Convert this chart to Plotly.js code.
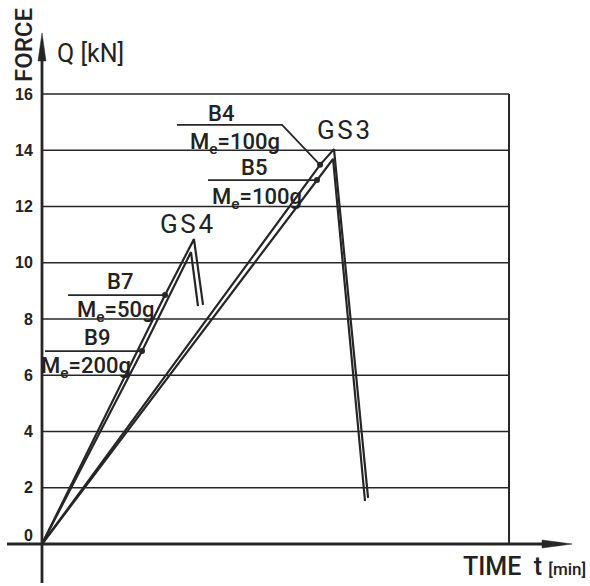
<!DOCTYPE html>
<html>
<head>
<meta charset="utf-8">
<script src="https://cdn.plot.ly/plotly-3.0.1.min.js"></script>
<style>html,body{margin:0;padding:0;background:#fff;}#chart{width:590px;height:586px;}</style>
</head>
<body>
<div id="chart"></div>
<script>
// ---- data (time in relative units, force in kN) ----
const forceTicks = [0, 2, 4, 6, 8, 10, 12, 14, 16];
const b4Time  = [0, 29.77, 31.26, 34.91];
const b4Force = [0, 13.48, 14.04, 1.64];
const b5Time  = [0, 29.44, 31.16, 34.58];
const b5Force = [0, 12.94, 13.69, 1.53];
const b7Time  = [0, 13.17, 16.27, 17.24];
const b7Force = [0, 8.85, 10.84, 8.50];
const b9Time  = [0, 10.71, 15.95, 16.70];
const b9Force = [0, 6.86, 10.38, 8.46];
const gaugeIndex = 1; // point where the strain gauge label attaches
const boxRight = 50;

const ink = '#262626';
const textInk = '#222222';
const lineStyle = {color: ink, width: 2.2};

const series = [[b4Time, b4Force], [b5Time, b5Force], [b7Time, b7Force], [b9Time, b9Force]];
const traces = series.map(s => ({
  x: s[0], y: s[1], mode: 'lines', line: lineStyle, hoverinfo: 'skip', cliponaxis: false
}));
traces.push({
  x: series.map(s => s[0][gaugeIndex]),
  y: series.map(s => s[1][gaugeIndex]),
  mode: 'markers', marker: {color: ink, size: 6}, hoverinfo: 'skip'
});
// leader lines from the labels to the gauge points
const leaders = [
  {x: [14.45, 25.70, b4Time[gaugeIndex]], y: [14.90, 14.90, b4Force[gaugeIndex]]},
  {x: [17.77, b5Time[gaugeIndex]], y: [b5Force[gaugeIndex], b5Force[gaugeIndex]]},
  {x: [2.78, b7Time[gaugeIndex]], y: [b7Force[gaugeIndex], b7Force[gaugeIndex]]},
  {x: [0.32, b9Time[gaugeIndex]], y: [b9Force[gaugeIndex], b9Force[gaugeIndex]]}
];
leaders.forEach(l => traces.push({x: l.x, y: l.y, mode: 'lines', line: {color: ink, width: 1.8}, hoverinfo: 'skip'}));

const shapes = [];
forceTicks.filter(v => v > 0).forEach(v => shapes.push({
  type: 'line', xref: 'x', yref: 'y', x0: 0, x1: boxRight, y0: v, y1: v,
  line: {color: ink, width: 1.7}
}));
shapes.push({type: 'line', xref: 'x', yref: 'y', x0: boxRight, x1: boxRight, y0: 0, y1: forceTicks[forceTicks.length - 1], line: {color: ink, width: 2}});
// axes
shapes.push({type: 'line', xref: 'x', yref: 'y', x0: 0, x1: 0, y0: -1.39, y1: 17.6, line: {color: ink, width: 2.8}});
shapes.push({type: 'line', xref: 'x', yref: 'y', x0: -3.75, x1: 55.5, y0: 0, y1: 0, line: {color: ink, width: 2.8}});
shapes.push({type: 'path', xref: 'x', yref: 'y', xsizemode: 'pixel', ysizemode: 'pixel', xanchor: 0, yanchor: 18.17,
  path: 'M-4,-28 L0,0 L4,-28 Z', fillcolor: ink, line: {color: ink, width: 0.5}});
shapes.push({type: 'path', xref: 'x', yref: 'y', xsizemode: 'pixel', ysizemode: 'pixel', xanchor: 56.75, yanchor: 0,
  path: 'M-30,-4 L0,0 L-30,4 Z', fillcolor: ink, line: {color: ink, width: 0.5}});

const lab = 'Roboto';
const annotations = [];
forceTicks.forEach(v => annotations.push({
  x: -0.75, y: v, xref: 'x', yref: 'y', xanchor: 'right', yanchor: 'middle', yshift: v === 0 ? 9 : 0,
  text: String(v), showarrow: false, font: {family: 'Liberation Sans', size: 16, color: textInk, weight: 'bold'}
}));
function txt(x, y, t, size, weight) {
  annotations.push({x: x, y: y, xref: 'x', yref: 'y', text: t, showarrow: false,
    xanchor: 'center', yanchor: 'middle', font: {family: lab, size: size || 22, color: textInk, weight: weight || 500}});
}
const me = (g) => 'M<sub>e</sub>=' + g + 'g';
const hair = '\u200A';
txt(19.17, 15.32, 'B4');
txt(20.66, 14.25, me(100));
txt(32.23, 14.72, 'G' + hair + 'S' + hair + '3', 26, 'normal');
txt(22.70, 13.37, 'B5');
txt(23.02, 12.29, me(100));
txt(15.52, 11.38, 'G' + hair + 'S' + hair + '4', 26, 'normal');
txt(8.35, 9.35, 'B7');
txt(7.92, 8.28, me(50));
txt(5.89, 7.36, 'B9');
txt(4.71, 6.28, me(200));
annotations.push({x: 24 / 590, y: 1 - 45 / 586, xref: 'paper', yref: 'paper', text: 'FORCE', textangle: -90,
  showarrow: false, xanchor: 'center', yanchor: 'middle', font: {family: lab, size: 24, color: textInk, weight: 500}});
annotations.push({x: 55 / 590, y: 1 - 53 / 586, xref: 'paper', yref: 'paper', text: 'Q [kN]',
  showarrow: false, xanchor: 'left', yanchor: 'middle', font: {family: lab, size: 25, color: textInk}});
annotations.push({x: 588 / 590, y: 1 - 566 / 586, xref: 'paper', yref: 'paper',
  text: 'TIME  t <span style="font-size:17px">[min]</span>',
  showarrow: false, xanchor: 'right', yanchor: 'middle', font: {family: lab, size: 25, color: textInk, weight: 500}});

const layout = {
  width: 590, height: 586, autosize: false,
  margin: {l: 0, r: 0, t: 0, b: 0, pad: 0},
  paper_bgcolor: '#fff', plot_bgcolor: '#fff',
  showlegend: false,
  xaxis: {range: [-4.497, 58.67], visible: false, fixedrange: true},
  yaxis: {range: [-1.493, 19.342], visible: false, fixedrange: true},
  shapes: shapes, annotations: annotations
};
Plotly.newPlot('chart', traces, layout, {staticPlot: true, displayModeBar: false});
</script>
</body>
</html>
